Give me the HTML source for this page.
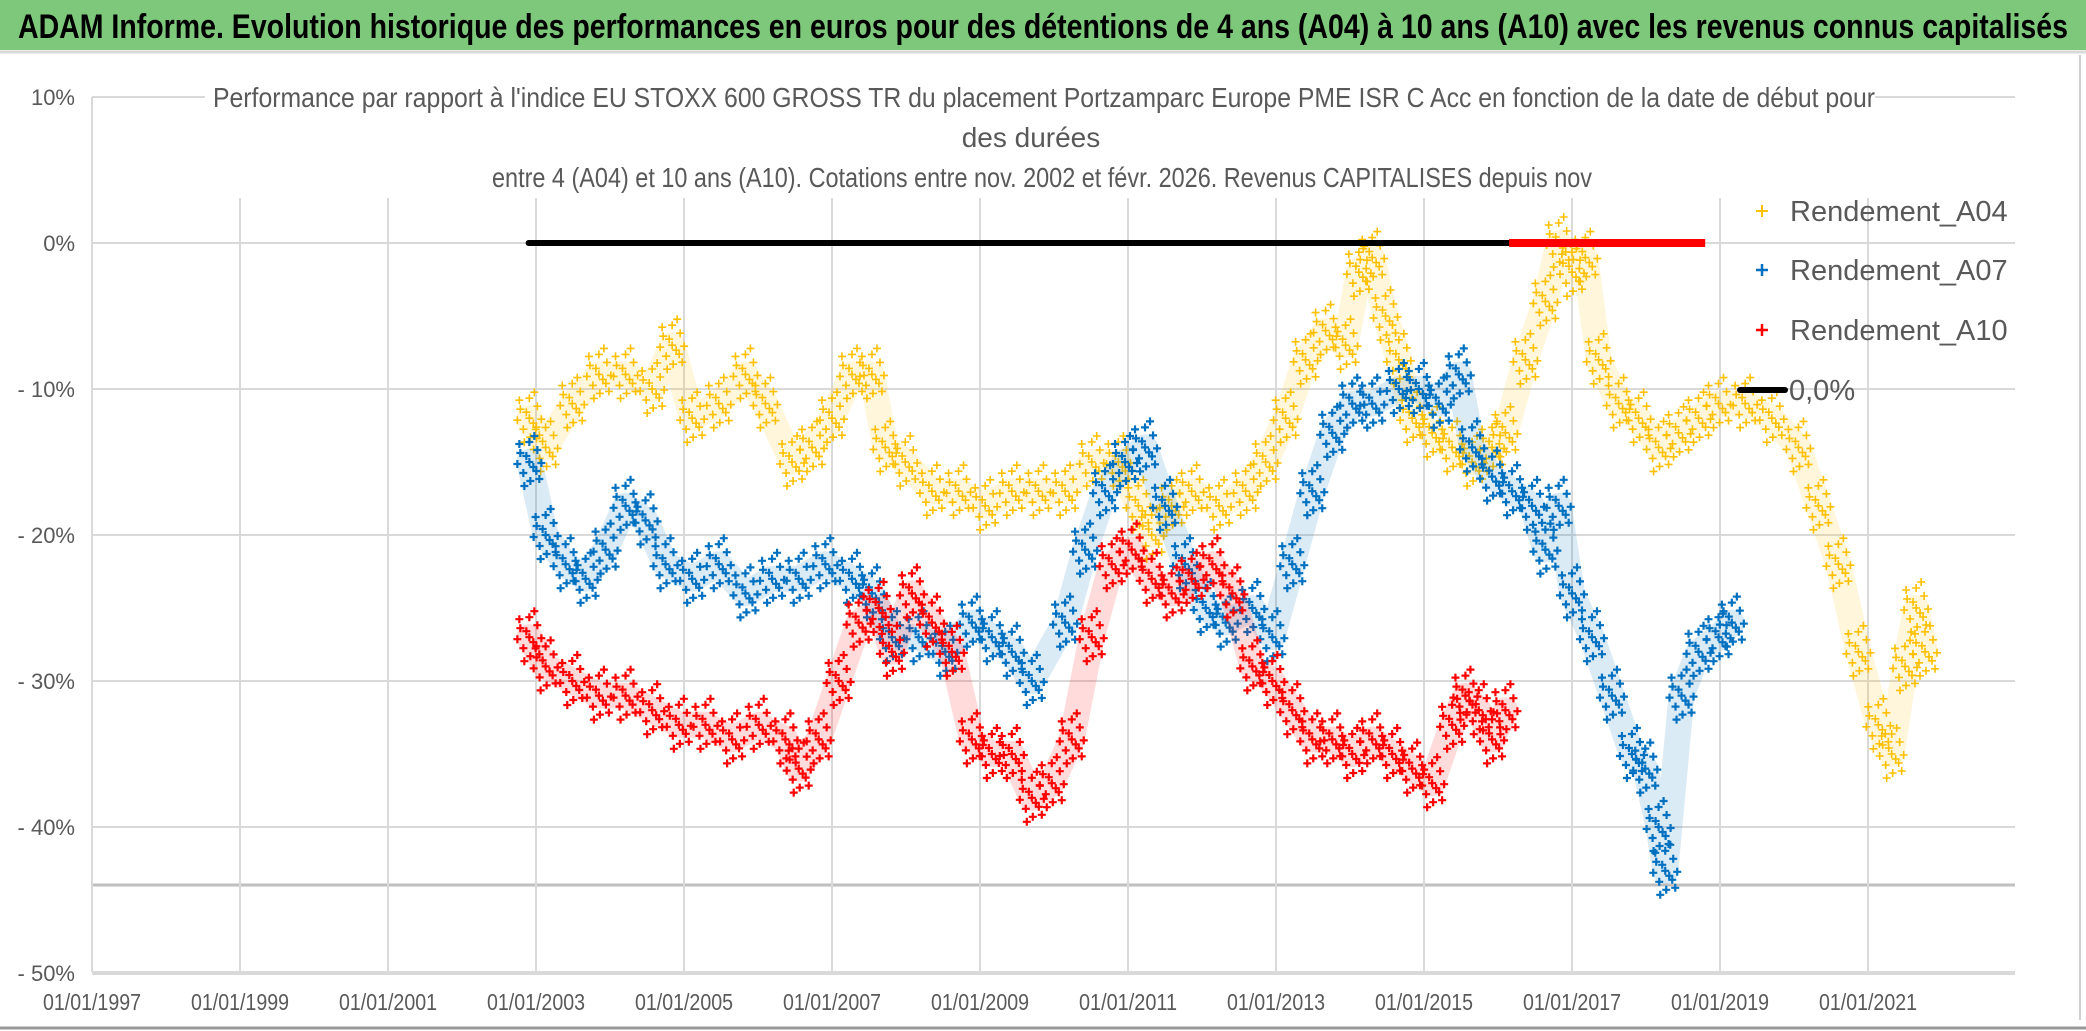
<!DOCTYPE html>
<html><head><meta charset="utf-8"><style>
html,body{margin:0;padding:0;background:#fff;}
svg{display:block;}
text{font-family:"Liberation Sans Narrow","Liberation Sans",sans-serif;}
</style></head><body>
<svg id="chart" width="2086" height="1031" viewBox="0 0 2086 1031" xmlns="http://www.w3.org/2000/svg">
<rect x="0" y="0" width="2086" height="1031" fill="#fff"/>
<rect x="0" y="0" width="2086" height="50" fill="#7ec87c"/>
<line x1="0" y1="52" x2="2086" y2="52" stroke="#d9d9d9" stroke-width="3"/>
<text x="18" y="38" font-size="34" font-weight="bold" fill="#000" textLength="2050" lengthAdjust="spacingAndGlyphs">ADAM Informe. Evolution historique des performances en euros pour des détentions de 4 ans (A04) à 10 ans (A10) avec les revenus connus capitalisés</text>
<line x1="2080" y1="55" x2="2080" y2="1020" stroke="#d0d0d0" stroke-width="2"/>
<line x1="0" y1="1028" x2="2086" y2="1028" stroke="#999" stroke-width="3"/>
<g id="grid"></g>
<g id="axes"></g>
<rect x="205" y="70" width="1670" height="126" fill="#fff"/>
<g fill="#595959" font-size="28">
<text x="213" y="107" textLength="1662" lengthAdjust="spacingAndGlyphs">Performance par rapport à l'indice EU STOXX 600 GROSS TR  du placement Portzamparc Europe PME ISR C Acc en fonction de la date de début pour</text>
<text x="1031" y="147" text-anchor="middle">des durées</text>
<text x="492" y="187" textLength="1100" lengthAdjust="spacingAndGlyphs">entre 4 (A04) et 10 ans (A10). Cotations entre nov. 2002 et févr. 2026. Revenus CAPITALISES depuis nov</text>
</g>
<g id="series"></g>
<g font-size="29" fill="#595959">
<g><path d="M1756 211h12M1762 205v12" stroke="#ffc000" stroke-width="2"/><text x="1790" y="221" style="font-family:'Liberation Sans',sans-serif">Rendement_A04</text></g>
<g><path d="M1756 270h12M1762 264v12" stroke="#0070c0" stroke-width="2.5"/><text x="1790" y="280" style="font-family:'Liberation Sans',sans-serif">Rendement_A07</text></g>
<g><path d="M1756 330h12M1762 324v12" stroke="#ff0000" stroke-width="2.5"/><text x="1790" y="340" style="font-family:'Liberation Sans',sans-serif">Rendement_A10</text></g>
<g><line x1="1740" y1="390" x2="1785" y2="390" stroke="#000" stroke-width="6" stroke-linecap="round"/><text x="1789" y="400" style="font-family:'Liberation Sans',sans-serif">0,0%</text></g>
</g>
</svg>
<script>
const a04Years=[2002.91,2003.13,2003.49,2003.85,2004.21,2004.57,2004.84,2005.11,2005.47,2005.83,2006.10,2006.46,2006.73,2007.00,2007.27,2007.54,2007.72,2007.99,2008.35,2008.71,2009.07,2009.43,2009.79,2010.15,2010.51,2010.87,2011.14,2011.32,2011.59,2011.86,2012.23,2012.59,2012.86,2013.13,2013.40,2013.67,2013.94,2014.12,2014.30,2014.48,2014.66,2014.84,2015.11,2015.38,2015.65,2015.92,2016.10,2016.37,2016.64,2016.82,2017.00,2017.18,2017.36,2017.63,2017.90,2018.17,2018.44,2018.71,2018.98,2019.34,2019.70,2020.06,2020.33,2020.60,2020.87,2021.14,2021.32,2021.50,2021.65,2021.77];
const a04Values=[-12,-14,-11,-9,-9,-10,-7,-12,-11,-9,-11,-15,-14,-12,-9,-9,-14,-15,-17,-17,-18,-17,-17,-17,-15,-15,-18,-20,-18,-17,-18,-17,-15,-12,-8,-6,-7,-2,-1,-5,-8,-12,-13,-14,-15,-14,-13,-8,-4,0,-2,-1,-8,-11,-12,-14,-13,-12,-11,-11,-12,-14,-18,-22,-28,-33,-35,-29,-25,-28];
const a07Years=[2002.91,2003.13,2003.40,2003.67,2003.94,2004.21,2004.48,2004.75,2005.11,2005.47,2005.83,2006.19,2006.55,2006.91,2007.27,2007.54,2007.81,2008.17,2008.53,2008.89,2009.16,2009.43,2009.70,2010.15,2010.42,2010.69,2010.96,2011.23,2011.50,2011.77,2012.05,2012.32,2012.68,2012.95,2013.22,2013.49,2013.76,2014.03,2014.30,2014.66,2014.93,2015.20,2015.47,2015.65,2015.92,2016.19,2016.46,2016.64,2016.82,2017.00,2017.27,2017.54,2017.81,2017.99,2018.17,2018.26,2018.48,2018.71,2018.98,2019.16];
const a07Values=[-15,-20,-22,-23,-21,-18,-19,-22,-23,-22,-24,-23,-23,-22,-23,-24,-27,-27,-28,-26,-27,-28,-30,-26,-21,-17,-15,-14,-18,-22,-25,-26,-25,-27,-22,-17,-13,-11,-11,-10,-10,-11,-9,-14,-16,-17,-18,-21,-18,-24,-27,-31,-35,-36,-40,-43,-31,-28,-27,-26];
const a10Years=[2002.91,2003.13,2003.49,2003.85,2004.21,2004.57,2004.93,2005.29,2005.65,2006.01,2006.37,2006.55,2006.82,2007.09,2007.36,2007.63,2007.81,2008.08,2008.35,2008.62,2008.89,2009.16,2009.43,2009.70,2009.97,2010.24,2010.51,2010.78,2011.05,2011.32,2011.59,2011.86,2012.14,2012.41,2012.68,2012.95,2013.22,2013.49,2013.76,2014.03,2014.30,2014.57,2014.84,2015.11,2015.38,2015.56,2015.74,2015.92,2016.10];
const a10Values=[-27,-29,-30,-31,-31,-32,-33,-33,-34,-33,-34,-36,-34,-30,-26,-25,-28,-24,-26,-28,-34,-35,-35,-38,-37,-34,-27,-22,-21,-23,-24,-23,-22,-24,-29,-30,-32,-34,-34,-35,-34,-35,-36,-37,-33,-31,-32,-34,-32];
const zeroLineRange=[2002.9,2016.15];
const a10ZeroRange=[2016.15,2018.8];
const a10ZeroLone=[2024.9,0];
const yTicks=[10,0,-10,-20,-30,-40,-50];
const yTickLabels=["10%","0%","- 10%","- 20%","- 30%","- 40%","- 50%"];
const xTicks=[1997,1999,2001,2003,2005,2007,2009,2011,2013,2015,2017,2019,2021];
const xTickLabels=["01/01/1997","01/01/1999","01/01/2001","01/01/2003","01/01/2005","01/01/2007","01/01/2009","01/01/2011","01/01/2013","01/01/2015","01/01/2017","01/01/2019","01/01/2021"];

const NS='http://www.w3.org/2000/svg';
const X0=92,YR0=1997,PXY=74.0;
function xs(yr){return X0+(yr-YR0)*PXY;}
function ys(v){return 243-v*14.6;}
function mk(tag,attrs,parent){const e=document.createElementNS(NS,tag);for(const k in attrs)e.setAttribute(k,attrs[k]);parent.appendChild(e);return e;}
const grid=document.getElementById('grid'),axes=document.getElementById('axes'),ser=document.getElementById('series');

yTicks.forEach((t,i)=>{
  const y=ys(t);
  const gl=mk('line',{x1:X0,x2:2015,y1:y,y2:y,stroke:'#d9d9d9','stroke-width':t===-50?4:2},grid);
  
  
  const tl=mk('text',{x:75,y:y+8,'text-anchor':'end','font-size':22,fill:'#595959'},axes);
  tl.textContent=yTickLabels[i];
  
  
});
const extra=mk('line',{x1:X0,x2:2015,y1:885,y2:885,stroke:'#bfbfbf','stroke-width':3},grid);


xTicks.forEach((t,i)=>{
  const x=xs(t);
  if(i>0){const gl=mk('line',{x1:x,x2:x,y1:198,y2:972,stroke:'#d9d9d9','stroke-width':2},grid);
  
  }
  const tl=mk('text',{x:x,y:1010,'text-anchor':'middle','font-size':23,fill:'#595959',textLength:98,lengthAdjust:'spacingAndGlyphs'},axes);
  tl.textContent=xTickLabels[i];
  
  
});
const yax=mk('line',{x1:X0,x2:X0,y1:97,y2:972,stroke:'#d9d9d9','stroke-width':2},axes);



const pattern=[[0,0],[-9,-9],[8,-12],[-6,11],[7,9],[0,-20],[1,19],[-12,2],[12,1],[-3,-6],[4,5],[-10,-18],[10,17],[5,-26],[-5,24]];
function drawSeries(years,vals,color,sw,name){
  const g=mk('g',{},ser);
  
  
  const pts=years.map((yr,i)=>xs(yr)+','+ys(vals[i])).join(' ');
  const band=mk('polyline',{points:pts,fill:'none',stroke:color,'stroke-width':26,'stroke-opacity':0.14,'stroke-linejoin':'round','stroke-linecap':'round'},g);
  
  
  years.forEach((yr,i)=>{
    const cx=xs(yr),cy=ys(vals[i]);
    let d='';
    pattern.forEach(p=>{const x=cx+p[0],y=cy+p[1];d+=`M${x-4} ${y}h8M${x} ${y-4}v8`;});
    const m=mk('path',{d:d,stroke:color,'stroke-width':sw,fill:'none'},g);
    
    
  });
}
drawSeries(a04Years,a04Values,'#ffc000',1.6,'series-a04');
drawSeries(a07Years,a07Values,'#0070c0',2.2,'series-a07');
drawSeries(a10Years,a10Values,'#ff0000',2.2,'series-a10');

const zl=mk('line',{x1:xs(zeroLineRange[0]),x2:xs(zeroLineRange[1]),y1:ys(0),y2:ys(0),stroke:'#000','stroke-width':6,'stroke-linecap':'round'},ser);


const rz=mk('line',{x1:xs(a10ZeroRange[0]),x2:xs(a10ZeroRange[1]),y1:ys(0),y2:ys(0),stroke:'#ff0000','stroke-width':8},ser);


const rl=mk('path',{d:`M${xs(a10ZeroLone[0])-3} ${ys(a10ZeroLone[1])}h6M${xs(a10ZeroLone[0])} ${ys(a10ZeroLone[1])-4}v8`,stroke:'#ff0000','stroke-width':2.5},ser);


</script>
</body></html>
